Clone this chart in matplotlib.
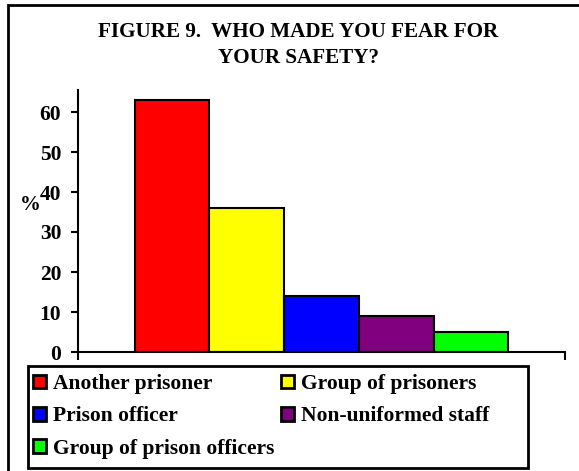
import matplotlib.pyplot as plt
from matplotlib.patches import Patch, Rectangle

categories = ["Another prisoner", "Group of prisoners", "Prison officer",
              "Non-uniformed staff", "Group of prison officers"]
values = [63, 36, 14, 9, 5]
colors = ["#ff0000", "#ffff00", "#0000ff", "#800080", "#00ff00"]
y_ticks = [0, 10, 20, 30, 40, 50, 60]

plt.rcParams["font.family"] = ["Liberation Serif", "DejaVu Serif"]
plt.rcParams["font.weight"] = "bold"

W, H = 579, 471
fig = plt.figure(figsize=(W / 100, H / 100), dpi=100)

# outer frame (cut off at the right and bottom like the scan)
fig.patches.append(Rectangle((8 / W, -0.05), 1.2, 1 - 5 / H + 0.05,
                             transform=fig.transFigure, fill=False,
                             edgecolor="black", linewidth=2))

fig.text(298 / W, 1 - 32 / H, "FIGURE 9.  WHO MADE YOU FEAR FOR",
         ha="center", va="center", fontsize=15.2, fontweight="bold")
fig.text(298 / W, 1 - 58 / H, "YOUR SAFETY?",
         ha="center", va="center", fontsize=15.2, fontweight="bold")

ax = fig.add_axes([78 / W, 1 - 352 / H, (565 - 78) / W, (352 - 90) / H])
x = range(len(values))
ax.bar(x, values, width=1.0, color=colors, edgecolor="black", linewidth=1.5)
ax.set_xlim(-1.26, 5.26)
ax.set_ylim(0, 65.5)
ax.set_yticks(y_ticks)
ax.set_xticks([-1.26, 5.26])
ax.set_xticklabels(["", ""])
ax.tick_params(axis="x", direction="out", length=6, width=1.5)
ax.tick_params(axis="y", direction="out", length=5, width=1.5,
               labelsize=15.5, pad=7)
for lbl in ax.get_yticklabels():
    lbl.set_fontweight("bold")
ax.spines["top"].set_visible(False)
ax.spines["right"].set_visible(False)
ax.spines["left"].set_linewidth(1.5)
ax.spines["bottom"].set_linewidth(1.5)

fig.text(30 / W, 1 - 205 / H, "%", ha="center", va="center",
         fontsize=15, fontweight="bold")

# legend box drawn separately so its width matches the original
fig.patches.append(Rectangle((28 / W, 1 - 468 / H), 500 / W, 102 / H,
                             transform=fig.transFigure, fill=False,
                             edgecolor="black", linewidth=2))
handles = [Patch(facecolor=c, edgecolor="black", linewidth=2) for c in colors]
order = [0, 2, 4, 1, 3]
leg = fig.legend([handles[i] for i in order], [categories[i] for i in order],
                 ncol=2, loc="upper left", bbox_to_anchor=(31 / W, 1 - 372 / H),
                 frameon=False, borderaxespad=0, borderpad=0.1,
                 handlelength=0.6, handleheight=0.6, handletextpad=0.3,
                 labelspacing=0.57, columnspacing=0.35,
                 prop={"size": 15.5, "weight": "bold"})

fig.savefig("out.png", dpi=100)
